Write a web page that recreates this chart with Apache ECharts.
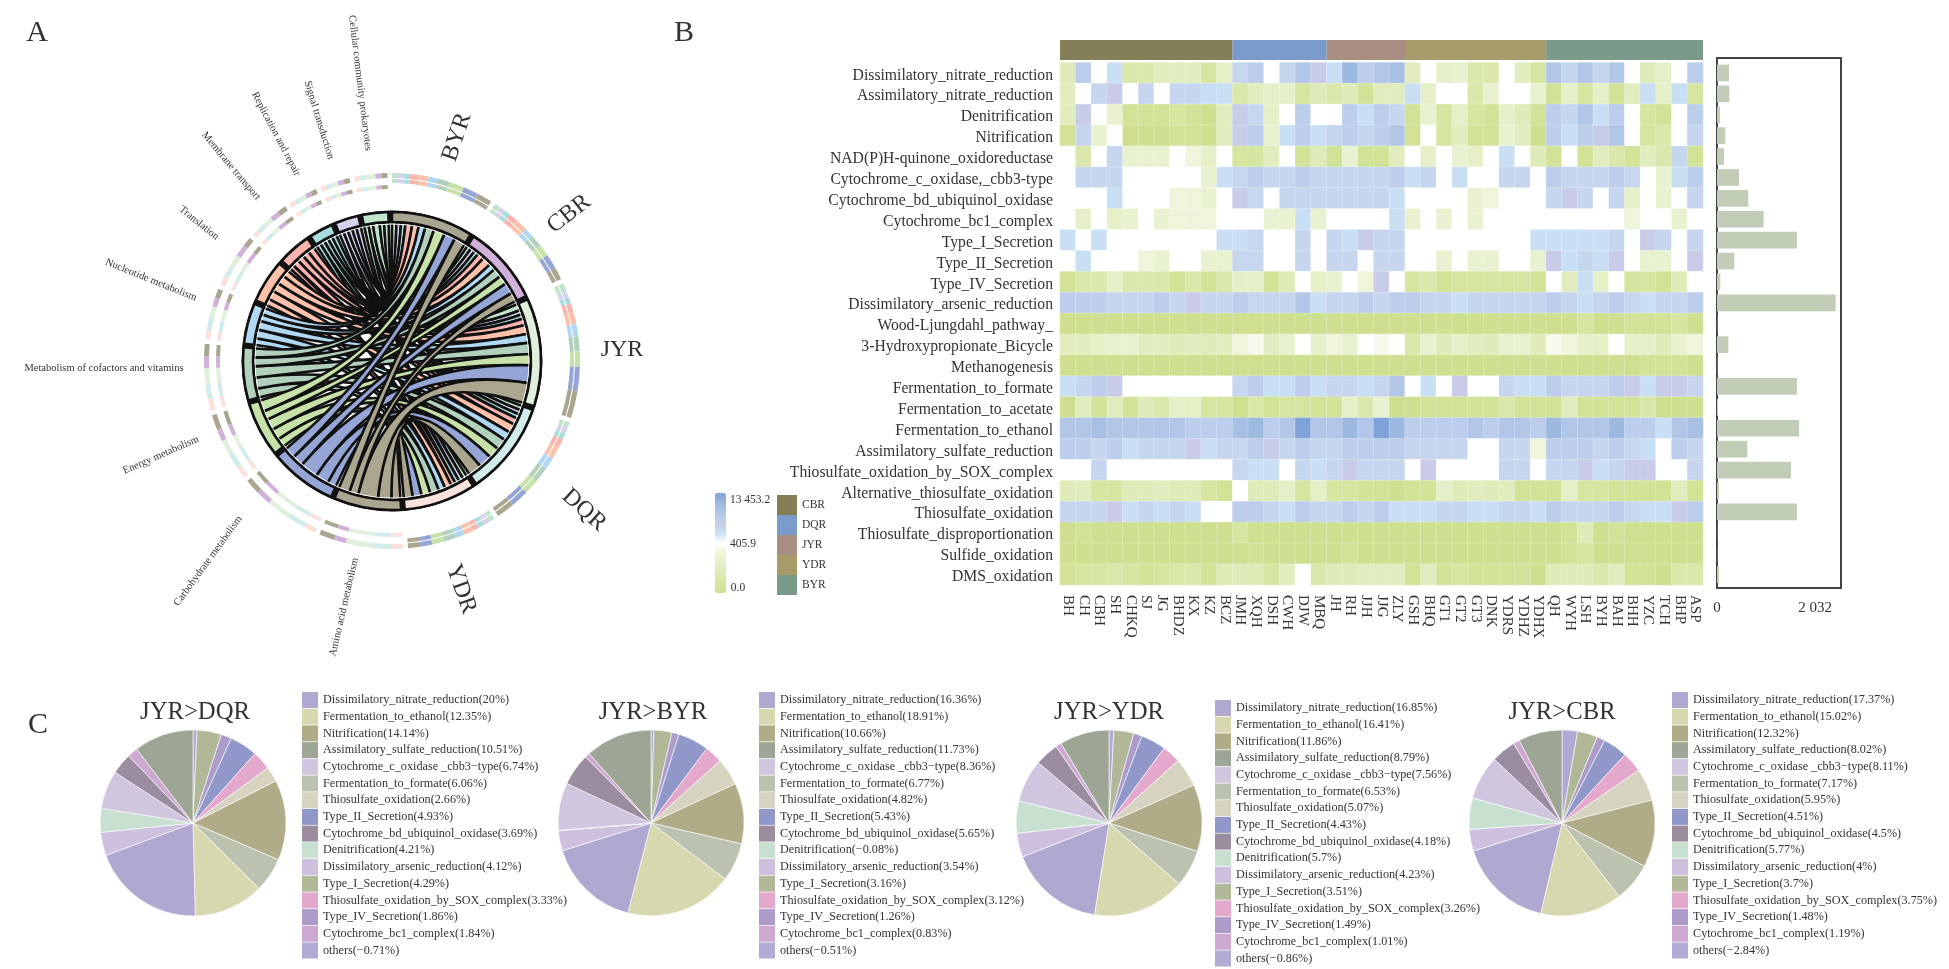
<!DOCTYPE html>
<html><head><meta charset="utf-8">
<style>html,body{margin:0;padding:0;background:#fff}#c{width:1949px;height:969px}</style>
<script src="https://cdn.jsdelivr.net/npm/echarts@6/dist/echarts.min.js"></script>
</head><body><div id="c"></div>
<script>
const FONT='"Liberation Serif"';
// ---------- Panel A
const groups=['BYR','CBR','JYR','DQR','YDR'];
const groupColors=['#A8A690','#D1B0D9','#E1F0DC','#D2ECEC','#F9E2DC'];
const functions=['Amino acid metabolism','Carbohydrate metabolism','Energy metabolism','Metabolism of cofactors and vitamins','Nucleotide metabolism','Translation','Membrane transport','Replication and repair','Signal transduction','Cellular community prokaryotes'];
const functionColors=['#ABA68F','#95A6D6','#C6E2A9','#B1D1BC','#B0D8F2','#FBC1AB','#FAB4AE','#A9DCDC','#D4D2EE','#BFE4CB'];
const flowAmino=[5,4,9,6,4];
const flowCarbo=[5,5,8,6,4];
const flowEnergy=[5,4,5,5,4];
const flowCofactor=[4,4,5,5,4];
const flowNucleotide=[3,3,4,4,3];
const flowTranslation=[3,4,4,4,3];
const flowMembrane=[3,3,3,3,2];
const flowReplication=[2,2,2,2,2];
const flowSignal=[2,2,2,2,2];
const flowCellular=[2,2,3,2,2];
const flows=[flowAmino,flowCarbo,flowEnergy,flowCofactor,flowNucleotide,flowTranslation,flowMembrane,flowReplication,flowSignal,flowCellular];
// ---------- Panel B
const pathways=['Dissimilatory_nitrate_reduction','Assimilatory_nitrate_reduction','Denitrification','Nitrification','NAD(P)H-quinone_oxidoreductase','Cytochrome_c_oxidase,_cbb3-type','Cytochrome_bd_ubiquinol_oxidase','Cytochrome_bc1_complex','Type_I_Secretion','Type_II_Secretion','Type_IV_Secretion','Dissimilatory_arsenic_reduction','Wood-Ljungdahl_pathway_','3-Hydroxypropionate_Bicycle','Methanogenesis','Fermentation_to_formate','Fermentation_to_acetate','Fermentation_to_ethanol','Assimilatory_sulfate_reduction','Thiosulfate_oxidation_by_SOX_complex','Alternative_thiosulfate_oxidation','Thiosulfate_oxidation','Thiosulfate_disproportionation','Sulfide_oxidation','DMS_oxidation'];
const sites=['BH','CH','CBH','SH','CHKQ','SJ','JG','BHDZ','KX','KZ','BCZ','JMH','XQH','DSH','CWH','DJW','MBQ','JH','RH','JJH','JJG','ZLY','GSH','BHQ','GT1','GT2','GT3','DNK','YDRS','YDHZ','YDHX','QH','WYH','LSH','BYH','BAH','BHH','YZC','TCH','BHP','ASP'];
const siteGroups=['CBR','DQR','JYR','YDR','BYR'];
const siteGroupCounts=[11,6,5,9,10];
const siteGroupColors=['#857F58','#7A9ACC','#A98E82','#A79B6A','#7A9B8A'];
// heat levels: -10 strongest green .. 0 white .. 10 strongest blue
const heatRows=[
[-6,5,0,2,-7,-7,-5,-5,-5,-8,-4,3,5,0,3,6,4,2,8,5,6,7,-5,0,-4,-3,-7,-7,0,-5,-8,6,3,6,3,6,0,-6,-4,0,5],
[-5,0,3,4,0,3,0,3,3,2,2,-7,-5,-4,-4,-8,-6,-7,-6,-9,-5,-5,2,-4,0,0,-7,-3,0,0,-3,-9,-4,-8,-4,-9,-5,2,-4,2,-8],
[-5,4,0,-3,-9,-9,-9,-8,-9,-10,-5,4,3,-4,0,5,0,0,5,2,5,3,-9,-3,-8,-4,-8,-9,-4,-6,-9,5,3,6,2,5,0,-8,-9,0,5],
[-9,3,-3,0,-10,-10,-10,-9,-9,-10,-5,4,5,-3,2,5,2,3,5,3,5,6,-9,0,-8,-5,-9,-9,-3,-5,-10,5,2,5,4,6,0,-8,-7,0,3],
[0,-7,0,3,-3,-3,-3,0,-2,-4,0,-8,-8,-5,0,-9,-6,-9,-3,-9,-9,-5,0,-4,0,-3,-4,0,2,0,-6,-9,0,-9,-5,-7,-9,-5,-7,3,-9],
[0,3,3,3,0,0,0,0,0,-3,2,3,5,3,3,5,3,3,3,3,3,5,2,3,0,2,0,0,3,3,0,5,3,3,3,5,3,0,-3,2,5],
[0,0,0,2,0,0,0,-2,-2,-3,0,4,3,0,3,3,3,3,3,3,3,2,0,0,0,0,-3,-2,0,0,0,3,4,3,0,3,-4,0,-3,0,3],
[0,-4,0,-4,-3,0,-3,-2,-2,-2,0,0,0,-3,-3,2,-3,0,0,0,0,2,-3,0,-3,0,-3,0,0,0,0,0,0,0,0,0,-2,0,0,-3,0],
[2,0,2,0,0,0,0,0,0,0,2,2,3,0,0,3,0,3,2,4,3,3,0,0,0,0,0,0,0,0,2,2,2,2,2,3,0,4,3,0,3],
[0,2,0,0,0,-2,-3,0,0,-3,-3,3,3,0,0,3,0,3,3,0,3,3,0,0,-3,0,-3,-3,0,0,-3,4,2,3,2,4,0,-3,-3,0,4],
[-9,-7,-7,-4,-7,-7,-7,-9,-7,-9,-7,-4,-4,-9,-6,0,-4,-3,0,-2,4,0,-8,-7,-9,-8,-8,-8,-8,-8,-9,0,-5,2,-4,0,-8,-8,-9,-6,0],
[5,5,5,3,3,3,5,3,4,3,3,5,3,3,3,6,2,3,3,5,3,5,5,3,3,2,3,3,3,3,3,5,3,2,3,5,3,2,3,3,5],
[-10,-10,-10,-10,-10,-10,-10,-10,-10,-10,-10,-10,-10,-10,-10,-10,-10,-10,-10,-10,-10,-10,-10,-10,-10,-10,-10,-10,-10,-10,-10,-10,-10,-8,-10,-10,-9,-9,-9,-8,-10],
[-5,-5,-4,-3,-3,-5,-5,-6,-5,-6,-5,-2,-1,-5,-3,0,-4,-2,-3,0,-1,0,-7,-3,-6,-4,-5,-6,-3,-3,-6,-1,-2,-4,-4,0,-4,-4,-6,-3,-2],
[-10,-10,-10,-10,-10,-10,-10,-10,-10,-10,-10,-10,-10,-10,-10,-10,-10,-10,-10,-10,-10,-10,-10,-10,-10,-10,-10,-10,-10,-10,-10,-10,-10,-10,-10,-10,-10,-9,-9,-9,-10],
[2,3,5,4,0,0,0,0,0,0,0,3,5,2,2,5,2,3,3,2,3,6,0,2,0,4,0,0,3,2,2,5,3,3,3,5,4,2,4,4,3],
[-10,-5,-9,-5,-9,-6,-7,-4,-4,-8,-8,-10,-7,-9,-8,-8,-9,-9,-4,-7,-3,-10,-10,-9,-9,-9,-9,-9,-7,-9,-9,-9,-5,-9,-9,-9,-9,-7,-10,-10,-10],
[6,6,7,6,6,6,6,6,5,5,5,7,8,5,6,10,6,6,8,6,10,8,5,5,5,5,6,5,6,6,5,8,6,6,6,8,5,5,2,6,7],
[5,5,3,5,2,3,3,3,4,2,3,3,5,4,3,5,3,3,5,5,5,5,3,3,3,3,0,0,3,3,-2,5,5,5,3,5,3,2,0,5,3],
[0,0,3,0,0,0,0,0,0,0,0,3,2,2,0,3,2,3,4,3,3,3,0,4,0,0,0,0,3,3,0,3,3,4,2,3,4,4,0,0,3],
[-6,-5,-8,-8,-6,-6,-5,-6,-6,-8,-9,0,-6,-6,-4,-8,-4,-8,-8,-9,-9,-10,-9,-9,-4,-6,-5,-6,-5,-9,-9,-9,-4,-8,-8,-9,-9,-9,-9,-5,-9],
[3,3,3,4,2,3,2,3,2,0,0,5,5,3,2,5,3,3,5,3,5,2,2,2,3,3,2,2,3,3,2,5,3,3,3,5,3,2,2,4,5],
[-10,-9,-10,-10,-10,-10,-10,-10,-10,-10,-10,-8,-10,-10,-10,-10,-10,-10,-10,-10,-10,-10,-10,-10,-10,-10,-10,-10,-10,-10,-10,-10,-9,-6,-10,-9,-10,-10,-10,-10,-10],
[-10,-10,-10,-10,-10,-10,-10,-10,-10,-10,-10,-10,-9,-10,-10,-10,-10,-10,-9,-10,-10,-10,-10,-10,-10,-10,-10,-10,-10,-10,-10,-10,-9,-8,-10,-10,-10,-10,-10,-10,-10],
[-9,-8,-8,-7,-8,-9,-8,-7,-7,-9,-6,-6,-6,-8,-5,0,-7,-6,-6,-5,-5,-5,-9,-5,-9,-8,-9,-9,-9,-9,-10,-6,-6,-6,-7,-5,-9,-9,-10,-7,-7]
];
const heatRamp=['#CEE08F','#D2E297','#D6E5A0','#DAE8AC','#DFEBB8','#E2EDBF','#E6F0C8','#E9F2D0','#EEF5DA','#F6FAEC','#FFFFFF','#E4F0FA','#C9E0F4','#C5D6EE','#C9CCE8','#BCCEEB','#B2C7E7','#A7C0E3','#9CB9E0','#8DADDC','#7FA3D8'];
const barValues=[249,255,62,172,145,456,649,968,1658,359,68,2460,6,234,6,1658,21,1700,628,1534,41,1658,4,4,41];
// ---------- Panel C
const pieNames=['Dissimilatory_nitrate_reduction','Fermentation_to_ethanol','Nitrification','Assimilatory_sulfate_reduction','Cytochrome_c_oxidase _cbb3\u2212type','Fermentation_to_formate','Thiosulfate_oxidation','Type_II_Secretion','Cytochrome_bd_ubiquinol_oxidase','Denitrification','Dissimilatory_arsenic_reduction','Type_I_Secretion','Thiosulfate_oxidation_by_SOX_complex','Type_IV_Secretion','Cytochrome_bc1_complex','others'];
const pieColors=['#AFA8D0','#D8D8B0','#B0AC88','#9DA594','#D0C6E0','#BBC3B0','#D6D3C0','#8F98C8','#9C8CA0','#C8E0D0','#CFC0E0','#B0B898','#E4A8CC','#AD9CCB','#CDA8D0','#B0AAD5'];
const pieClockOrder=[15,11,13,7,12,6,2,5,1,0,10,9,4,8,14,3];
const pieDQR=[20,12.35,14.14,10.51,6.74,6.06,2.66,4.93,3.69,4.21,4.12,4.29,3.33,1.86,1.84,-0.71];
const pieBYR=[16.36,18.91,10.66,11.73,8.36,6.77,4.82,5.43,5.65,-0.08,3.54,3.16,3.12,1.26,0.83,-0.51];
const pieYDR=[16.85,16.41,11.86,8.79,7.56,6.53,5.07,4.43,4.18,5.7,4.23,3.51,3.26,1.49,1.01,-0.86];
const pieCBR=[17.37,15.02,12.32,8.02,8.11,7.17,5.95,4.51,4.5,5.77,4,3.7,3.75,1.48,1.19,-2.84];
const pieTitles=['JYR>DQR','JYR>BYR','JYR>YDR','JYR>CBR'];

// ---------- build
const RC=[392,361], GAP=1.5;
const nodes=[...groups.map((n,i)=>({name:n,itemStyle:{color:groupColors[i]}})),...functions.map((n,i)=>({name:n,itemStyle:{color:functionColors[i]}}))];
const links=[];
for(let f=functions.length-1;f>=0;f--)for(let g=groups.length-1;g>=0;g--)links.push({source:functions[f],target:groups[g],value:flows[f][g]});
function ring(side){
  const d=[];let id=0;const hide='rgba(0,0,0,0)';
  const push=(v,c,vis)=>d.push({name:'r'+side+(id++),value:v,itemStyle:{color:vis?c:hide}});
  groups.forEach((g,gi)=>{
    for(let f=functions.length-1;f>=0;f--)push(flows[f][gi],functionColors[f],side!=='left');
    push(GAP,hide,false);
  });
  functions.forEach((fn,f)=>{
    for(let g=groups.length-1;g>=0;g--)push(flows[f][g],groupColors[g],side!=='right');
    push(GAP,hide,false);
  });
  return d;
}
function pieSeries(vals,cx){
  return {type:'pie',center:[cx,823],radius:[0,93],startAngle:90,silent:true,label:{show:false},labelLine:{show:false},
    itemStyle:{borderColor:'#fff',borderWidth:0.6},animation:false,
    data:pieClockOrder.map(i=>({name:pieNames[i]+'('+String(vals[i]).replace('-','\u2212')+'%)',value:Math.abs(vals[i]),itemStyle:{color:pieColors[i]}}))};
}
function pieLegend(vals,x,y){
  return {show:true,orient:'vertical',left:x,top:y,padding:0,itemWidth:16,itemHeight:16,itemGap:0.7,icon:'rect',selectedMode:false,
    itemStyle:{borderWidth:0},
    textStyle:{fontFamily:FONT,fontSize:12.2,color:'#333',lineHeight:14},
    data:pieNames.map((n,i)=>n+'('+String(vals[i]).replace('-','\u2212')+'%)')};
}
const ringBase={type:'pie',center:RC,startAngle:90,silent:true,label:{show:false},labelLine:{show:false},animation:false,avoidLabelOverlap:false,minShowLabelAngle:999};
const series=[
  {...ringBase,radius:[183,188],data:ring('all')},
  {...ringBase,radius:[178,182],data:ring('right')},
  {...ringBase,radius:[172,176],data:ring('left')},
  {...ringBase,radius:[138,150.5],data:[{name:'chordBack',value:1,itemStyle:{color:'#111'}}]},
  {type:'chord',center:RC,radius:[139,149],startAngle:90,clockwise:true,padAngle:1.4,minAngle:0,silent:true,animation:false,
    label:{show:false},
    itemStyle:{borderColor:'#111',borderWidth:2.5,borderRadius:0},
    lineStyle:{color:'source',opacity:1},
    data:nodes,links},
  {...ringBase,z:5,radius:[136.6,137.4],data:[{name:'innerRing',value:1,itemStyle:{color:'#fff'}}]},
  {type:'heatmap',xAxisIndex:0,yAxisIndex:0,silent:true,animation:false,progressive:0,
    itemStyle:{borderColor:'rgba(255,255,255,0.45)',borderWidth:0.5},
    data:heatRows.flatMap((r,y)=>r.map((v,x)=>[x,y,v]))},
  {type:'bar',xAxisIndex:1,yAxisIndex:1,silent:true,animation:false,barWidth:16.7,itemStyle:{color:'#C2CDB8'},data:barValues},
  ...siteGroups.map((g,i)=>({type:'bar',name:g,stack:'anno',xAxisIndex:2,yAxisIndex:2,barWidth:'100%',silent:true,animation:false,itemStyle:{color:siteGroupColors[i]},data:[siteGroupCounts[i]]})),
  pieSeries(pieDQR,193),pieSeries(pieBYR,651),pieSeries(pieYDR,1109),pieSeries(pieCBR,1562)
];
const heatIdx=6;
const txt=(t,x,y,size,rotDeg,color)=>({type:'text',x,y,rotation:(rotDeg||0)*Math.PI/180,silent:true,style:{text:t,x:0,y:0,align:'center',verticalAlign:'middle',font:size+'px '+FONT,fill:color||'#333'}});
const graphics=[
  {type:'rect',silent:true,shape:{x:1717,y:58,width:124,height:530},style:{fill:'none',stroke:'#444',lineWidth:2}},
  txt('A',37,33,30),txt('B',684,33,30),txt('C',38,725,30),
  txt('Cellular community prokaryotes',360,83,10.5,-83),
  txt('Signal transduction',319,120,10.5,-73),
  txt('Replication and repair',276,134,10.5,-62),
  txt('Membrane transport',231,166,10.5,-50),
  txt('Translation',199,223,10.5,-39),
  txt('Nucleotide metabolism',151,280,10.5,-22),
  txt('Metabolism of cofactors and vitamins',104,368,10.5,0),
  txt('Energy metabolism',161,455,10.5,23.5),
  txt('Carbohydrate metabolism',208,561,10.5,54),
  txt('Amino acid metabolism',344,607,10.5,77),
  txt('BYR',457,137,24,72),txt('CBR',569,214,24,38),txt('JYR',622,350,24,0),txt('DQR',584,510,24,-42),txt('YDR',461,589,24,-70),
  txt('13 453.2',750,500,11.5),txt('405.9',743,544,11.5),txt('0.0',738,588,11.5),
  ...pieTitles.map((t,i)=>txt(t,[195,653,1109,1562][i],713,24.7))
];
const chart=echarts.init(document.getElementById('c'),null,{renderer:'canvas'});
chart.setOption({
  backgroundColor:'#fff',animation:false,
  grid:[
    {left:1060,top:62.5,width:643,height:522.5},
    {left:1717,top:62.5,width:124,height:522.5},
    {left:1060,top:40,width:643,height:20},
    {left:1060,top:65,width:643,height:522.5}
  ],
  xAxis:[
    {type:'category',gridIndex:0,data:sites,position:'bottom',axisTick:{show:false},axisLine:{show:false},splitLine:{show:false},
      axisLabel:{rotate:-90,interval:0,fontFamily:FONT,fontSize:15,color:'#333',margin:10}},
    {type:'value',gridIndex:1,min:0,max:2571,splitLine:{show:false},axisLine:{show:false},axisTick:{show:false},
      axisLabel:{customValues:[0,2032],formatter:v=>v===2032?'2 032':'0',fontFamily:FONT,fontSize:15,color:'#333',margin:16}},
    {type:'value',gridIndex:2,min:0,max:41,show:false},
    {type:'value',gridIndex:3,show:false}
  ],
  yAxis:[
    {type:'category',gridIndex:0,data:pathways,inverse:true,axisTick:{show:false},axisLine:{show:false},splitLine:{show:false},axisLabel:{show:false}},
    {type:'category',gridIndex:1,data:pathways,inverse:true,show:false},
    {type:'category',gridIndex:2,data:['group'],show:false},
    {type:'category',gridIndex:3,data:pathways,inverse:true,axisTick:{show:false},axisLine:{show:false},splitLine:{show:false},
      axisLabel:{interval:0,fontFamily:FONT,fontSize:15.7,color:'#333',margin:7}}
  ],
  visualMap:[{type:'continuous',seriesIndex:heatIdx,min:-10,max:10,show:true,calculable:false,left:715,top:493,padding:0,itemWidth:11,itemHeight:100,text:null,showLabel:false,realtime:false,hoverLink:false,inRange:{color:heatRamp},textStyle:{color:'rgba(0,0,0,0)',fontSize:1}}],
  legend:[
    {show:true,orient:'vertical',left:777,top:495,padding:0,itemWidth:20,itemHeight:20,itemGap:0,icon:'rect',selectedMode:false,itemStyle:{borderWidth:0},textStyle:{fontFamily:FONT,fontSize:11.5,color:'#333'},data:siteGroups},
    pieLegend(pieDQR,302,692),pieLegend(pieBYR,759,692),pieLegend(pieYDR,1215,700),pieLegend(pieCBR,1672,692)
  ],
  series,
  graphic:graphics
});
// the library's chord edges have no separate outline option: outline them on the rendered ribbons
const ribbonFills=new Set(functionColors);
chart.getZr().storage.getDisplayList(true).forEach(el=>{
  if(el.type!=='sector'&&el.type!=='rect'&&el.style&&ribbonFills.has(el.style.fill)&&el.shape&&el.shape.cx!==undefined){
    el.setStyle({stroke:'#111',lineWidth:2.6});
  }
});
chart.getZr().refresh();
</script></body></html>
